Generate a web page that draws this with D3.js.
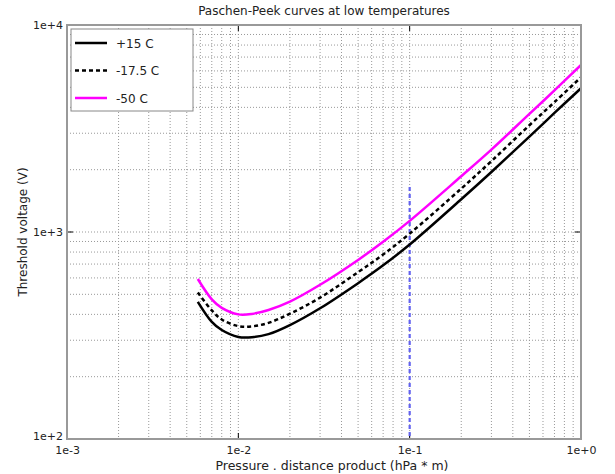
<!DOCTYPE html>
<html>
<head>
    <meta charset="UTF-8">
    <title>Paschen-Peek curves</title>
    <script src="https://d3js.org/d3.v7.min.js"></script>
    <style>
        body { margin: 0; background: #fff; }
        text { font-family: "DejaVu Sans", Verdana, sans-serif; fill: #222; }
    </style>
</head>
<body>
<div id="chart"></div>
<script>
// pressure * distance product (hPa * m)
var pd = [0.0058, 0.007, 0.008, 0.01, 0.012, 0.015, 0.02, 0.03, 0.05, 0.07, 0.1, 0.2, 0.3, 0.5, 0.7, 1.0];
// threshold voltage (V)
var vPlus15   = [460, 368, 336, 311, 310, 321, 355, 428, 566, 690, 870, 1440, 1950, 2890, 3760, 4950];
var vMinus175 = [510, 418, 378, 351, 350, 364, 403, 482, 640, 778, 982, 1620, 2200, 3280, 4240, 5590];
var vMinus50  = [593, 473, 430, 400, 402, 420, 461, 556, 733, 897, 1132, 1860, 2500, 3720, 4830, 6410];
var seriesNames = ["+15 C", "-17.5 C", "-50 C"];
// marker line at pd = 0.1
var markerX = 0.1, markerTop = 1650;
var xDomain = [1e-3, 1], yDomain = [1e2, 1e4];
var xTickVals = [1e-3, 1e-2, 1e-1, 1];
var yTickVals = [1e2, 1e3, 1e4];

var W = 615, H = 474;
var margin = {top: 25, right: 34, bottom: 35, left: 67};
var width = W - margin.left - margin.right,
    height = H - margin.top - margin.bottom;

var svg = d3.select("#chart").append("svg")
    .attr("width", W)
    .attr("height", H);

var g = svg.append("g")
    .attr("transform", "translate(" + margin.left + "," + margin.top + ")");

var x = d3.scaleLog().domain(xDomain).range([0, width]);
var y = d3.scaleLog().domain(yDomain).range([height, 0]);
var fmt = d3.format(".0e");

// dotted grid
g.selectAll(".gx").data(x.ticks()).enter().append("line")
    .attr("x1", d => x(d)).attr("x2", d => x(d))
    .attr("y1", 0).attr("y2", height)
    .attr("stroke", "#999").attr("stroke-width", 1)
    .attr("stroke-dasharray", "1,2");
g.selectAll(".gy").data(y.ticks()).enter().append("line")
    .attr("x1", 0).attr("x2", width)
    .attr("y1", d => y(d)).attr("y2", d => y(d))
    .attr("stroke", "#999").attr("stroke-width", 1)
    .attr("stroke-dasharray", "1,2");

// major ticks, pointing inwards
xTickVals.slice(1, -1).forEach(function (d) {
    g.append("line").attr("x1", x(d)).attr("x2", x(d)).attr("y1", height).attr("y2", height - 6)
        .attr("stroke", "#000");
    g.append("line").attr("x1", x(d)).attr("x2", x(d)).attr("y1", 0).attr("y2", 6)
        .attr("stroke", "#000");
});
yTickVals.slice(1, -1).forEach(function (d) {
    g.append("line").attr("x1", 0).attr("x2", 6).attr("y1", y(d)).attr("y2", y(d))
        .attr("stroke", "#000");
    g.append("line").attr("x1", width).attr("x2", width - 6).attr("y1", y(d)).attr("y2", y(d))
        .attr("stroke", "#000");
});

// axes labels via d3 axes (no tick lines)
var xAxis = g.append("g")
    .attr("transform", "translate(0," + height + ")")
    .call(d3.axisBottom(x).tickValues(xTickVals).tickFormat(fmt).tickSize(0).tickPadding(7));
var yAxis = g.append("g")
    .call(d3.axisLeft(y).tickValues(yTickVals).tickFormat(fmt).tickSize(0).tickPadding(4));
[xAxis, yAxis].forEach(function (a) {
    a.select(".domain").remove();
    a.selectAll("text").attr("font-family", "DejaVu Sans").attr("font-size", 11).attr("fill", "#222");
});
// bottom y label sits a bit higher so it clears "1e-3"
yAxis.selectAll("text").filter(d => d === yDomain[0]).attr("dy", "0.05em");

// vertical marker
g.append("line")
    .attr("x1", x(markerX)).attr("x2", x(markerX))
    .attr("y1", y(markerTop)).attr("y2", height)
    .attr("stroke", "#6262f0").attr("stroke-width", 2.2)
    .attr("stroke-dasharray", "4,3");

// curves
var line = d3.line()
    .x(d => x(d[0]))
    .y(d => y(d[1]))
    .curve(d3.curveCatmullRom);

var series = [
    {name: seriesNames[0], values: vPlus15, color: "#000", dash: null},
    {name: seriesNames[1], values: vMinus175, color: "#000", dash: "4,3"},
    {name: seriesNames[2], values: vMinus50, color: "#ff00ff", dash: null}
];

series.forEach(function (s) {
    g.append("path")
        .datum(pd.map((p, i) => [p, s.values[i]]))
        .attr("fill", "none")
        .attr("stroke", s.color)
        .attr("stroke-width", 2.5)
        .attr("stroke-dasharray", s.dash)
        .attr("d", line);
});

// frame
g.append("rect")
    .attr("width", width).attr("height", height)
    .attr("fill", "none").attr("stroke", "#999").attr("stroke-width", 2);

// legend
var legend = g.append("g").attr("transform", "translate(4,4)");
legend.append("rect")
    .attr("width", 122).attr("height", 82)
    .attr("fill", "#fff").attr("stroke", "#888").attr("stroke-width", 1);
series.forEach(function (s, i) {
    var ly = 14 + i * 27.5;
    legend.append("line")
        .attr("x1", 4).attr("x2", 36).attr("y1", ly).attr("y2", ly)
        .attr("stroke", s.color).attr("stroke-width", 2.5)
        .attr("stroke-dasharray", s.dash);
    legend.append("text")
        .attr("x", 45).attr("y", ly + 4.5)
        .attr("font-size", 12)
        .text(s.name);
});

// titles
svg.append("text")
    .attr("x", margin.left + width / 2).attr("y", 15)
    .attr("text-anchor", "middle").attr("font-size", 12)
    .text("Paschen-Peek curves at low temperatures");
svg.append("text")
    .attr("x", margin.left + width / 2 + 8).attr("y", 470)
    .attr("text-anchor", "middle").attr("font-size", 12.5)
    .text("Pressure . distance product (hPa * m)");
svg.append("text")
    .attr("transform", "translate(27," + (margin.top + height / 2) + ") rotate(-90)")
    .attr("text-anchor", "middle").attr("font-size", 12)
    .text("Threshold voltage (V)");
</script>
</body>
</html>
